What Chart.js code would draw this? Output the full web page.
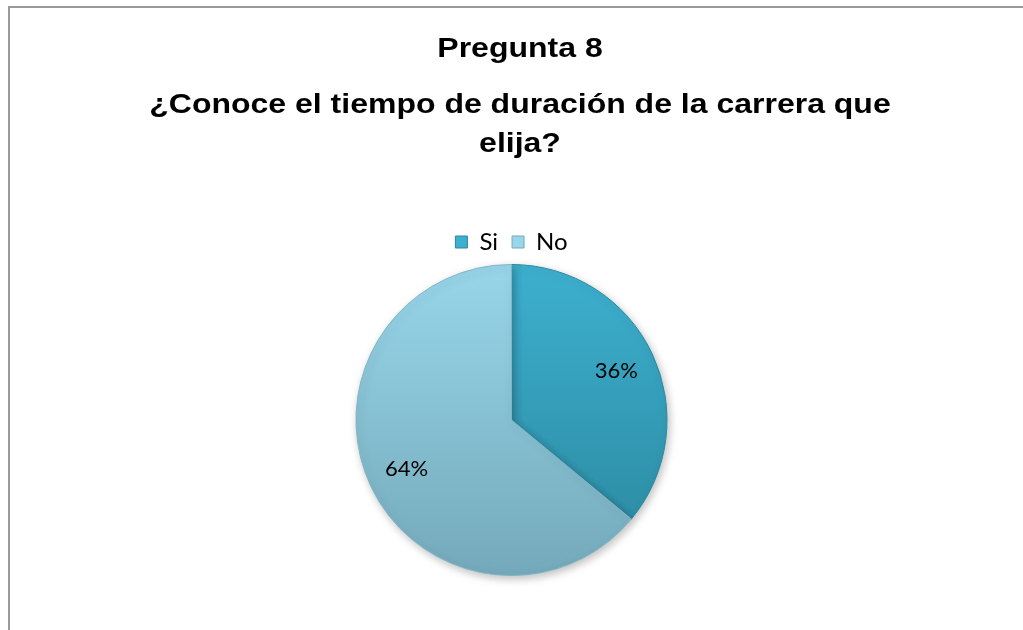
<!DOCTYPE html>
<html>
<head>
<meta charset="utf-8">
<script src="https://cdn.jsdelivr.net/npm/chart.js@4.4.0/dist/chart.umd.min.js"></script>
<style>
  html, body { margin: 0; padding: 0; background: #fff; overflow: hidden; }
  #wrap { position: relative; width: 1023px; height: 630px; }
  #frame { position: absolute; left: 8px; top: 6px; width: 1100px; height: 700px; border: 2px solid #9a9a9a; box-sizing: border-box; }
  canvas { position: absolute; left: 0; top: 0; }
</style>
</head>
<body>
<div id="wrap">
  <div id="frame"></div>
  <canvas id="c" width="1023" height="630"></canvas>
</div>
<script>
const titleLines = ["Pregunta 8", "\u00bfConoce el tiempo de duraci\u00f3n de la carrera que", "elija?"];
const categories = ["Si", "No"];
const values = [36, 64];
const labelsText = ["36%", "64%"];

const topColors = ["#3db0cf", "#98d6ea"];
const bottomColors = ["#2a879e", "#74a9ba"];

function sliceFill(ctx) {
  const chart = ctx.chart;
  const ca = chart.chartArea;
  if (!ca) return topColors[ctx.dataIndex];
  const g = chart.ctx.createLinearGradient(0, ca.top, 0, ca.bottom);
  g.addColorStop(0, topColors[ctx.dataIndex]);
  g.addColorStop(1, bottomColors[ctx.dataIndex]);
  return g;
}

const titlePlugin = {
  id: 'customTitle',
  afterDraw(chart) {
    const c = chart.ctx;
    const ys = [57, 113, 152];
    titleLines.forEach((t, i) => {
      c.save();
      c.fillStyle = '#000';
      c.textAlign = 'center';
      c.textBaseline = 'alphabetic';
      c.font = 'bold 27px "Liberation Sans", Arial, sans-serif';
      c.translate(520, ys[i]);
      c.scale(1.185, 1);
      c.fillText(t, 0, 0);
      c.restore();
    });
  }
};

const pctPlugin = {
  id: 'pctLabels',
  afterDatasetsDraw(chart) {
    const meta = chart.getDatasetMeta(0);
    const c = chart.ctx;
    c.save();
    c.fillStyle = '#000';
    c.textAlign = 'center';
    c.textBaseline = 'middle';
    c.font = '22px Lato, "Open Sans", sans-serif';
    meta.data.forEach((arc, i) => {
      const p = arc.getProps(['x', 'y', 'startAngle', 'endAngle', 'outerRadius'], true);
      const mid = (p.startAngle + p.endAngle) / 2;
      const r = p.outerRadius * 0.745;
      c.fillText(labelsText[i], p.x + Math.cos(mid) * r, p.y + Math.sin(mid) * r);
    });
    c.restore();
  }
};

const shadowPlugin = {
  id: 'shadow',
  beforeDatasetsDraw(chart) {
    const c = chart.ctx;
    c.save();
    c.shadowColor = 'rgba(0,0,0,0.25)';
    c.shadowBlur = 8;
    c.shadowOffsetX = 2;
    c.shadowOffsetY = 3;
  },
  afterDatasetsDraw(chart) {
    chart.ctx.restore();
  }
};

new Chart(document.getElementById('c'), {
  type: 'pie',
  data: {
    labels: categories,
    datasets: [{
      data: values,
      backgroundColor: sliceFill,
      borderColor: ['#2a8aa2', '#7fb5c6'],
      borderWidth: 1
    }]
  },
  options: {
    responsive: false,
    animation: false,
    layout: { padding: { top: 216, bottom: 54, left: 0, right: 0 } },
    plugins: {
      title: { display: false },
      tooltip: { enabled: false },
      legend: {
        display: true,
        position: 'top',
        labels: {
          boxWidth: 12,
          boxHeight: 12,
          padding: 14,
          color: '#000',
          font: { family: 'Lato, "Open Sans", sans-serif', size: 24 },
          generateLabels(chart) {
            return categories.map((name, i) => ({
              text: name,
              fillStyle: topColors[i],
              strokeStyle: bottomColors[i],
              lineWidth: 1,
              hidden: false,
              index: i
            }));
          }
        }
      }
    }
  },
  plugins: [shadowPlugin, pctPlugin, titlePlugin]
});
</script>
</body>
</html>
